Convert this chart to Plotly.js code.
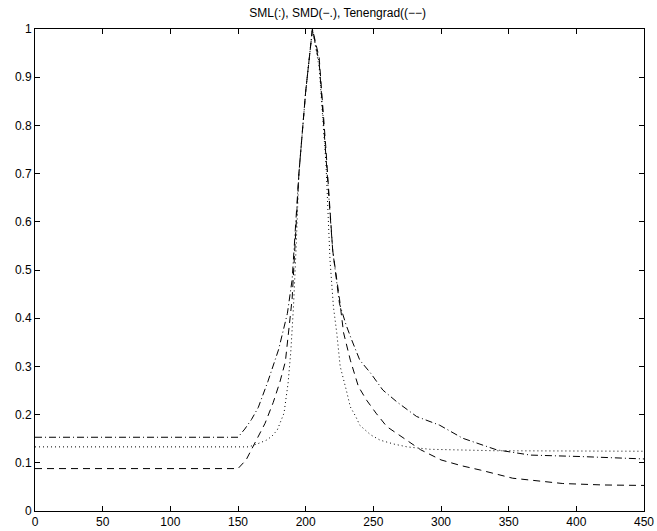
<!DOCTYPE html>
<html>
<head>
<meta charset="utf-8">
<script src="https://cdn.plot.ly/plotly-3.0.1.min.js"></script>
<style>html,body{margin:0;padding:0;background:#fff;}#chart{width:657px;height:531px;}</style>
</head>
<body>
<div id="chart"></div>
<script>
// SML (dotted)
const smlX = [0,158,165,171,175,179,184,187,189,191,193,195,200,205,210,215,218,220.5,223,225.5,230,233,237,240,248,255,265,275,292,340,450];
const smlY = [0.133,0.133,0.140,0.147,0.155,0.168,0.203,0.265,0.33,0.424,0.55,0.70,0.87,1.0,0.92,0.72,0.52,0.424,0.369,0.30,0.251,0.216,0.196,0.178,0.158,0.147,0.139,0.133,0.128,0.125,0.124];
// SMD (dash-dot)
const smdX = [0,150,155,160,165,172,180,186.5,190,195,200,205,210,215,220,225,230,234,240,248,257,268,282,299,316,341,366,403,450];
const smdY = [0.153,0.153,0.17,0.19,0.215,0.268,0.335,0.41,0.48,0.70,0.87,1.0,0.93,0.74,0.54,0.43,0.385,0.355,0.313,0.286,0.251,0.225,0.196,0.178,0.151,0.127,0.116,0.113,0.108];
// Tenengrad (dashed)
const tenX = [0,150,156,162.5,170,176,181,185,190,195,200,205,210,215,220,225,228,233,239,245,252,260,268,275,285,300,315,329,353,390,420,450];
const tenY = [0.088,0.088,0.106,0.14,0.182,0.225,0.268,0.31,0.44,0.70,0.87,1.0,0.94,0.75,0.54,0.44,0.37,0.313,0.258,0.23,0.203,0.175,0.16,0.145,0.127,0.106,0.094,0.085,0.068,0.057,0.054,0.053];

const xTicks = [0,50,100,150,200,250,300,350,400,450];
const yTicks = [0,0.1,0.2,0.3,0.4,0.5,0.6,0.7,0.8,0.9,1];
const yTickText = ['0','0.1','0.2','0.3','0.4','0.5','0.6','0.7','0.8','0.9','1'];
const titleText = 'SML(:), SMD(−.), Tenengrad((−−)';

const traces = [
  {x: smlX, y: smlY, mode: 'lines', line: {color: '#000', width: 1, dash: '1px,3px'}, name: 'SML'},
  {x: smdX, y: smdY, mode: 'lines', line: {color: '#000', width: 1, dash: '7px,3px,1px,3px'}, name: 'SMD'},
  {x: tenX, y: tenY, mode: 'lines', line: {color: '#000', width: 1, dash: '7px,5px'}, name: 'Tenengrad'}
];

const axisCommon = {
  showgrid: false, zeroline: false, showline: true, linecolor: '#000', linewidth: 1,
  mirror: 'ticks', ticks: 'inside', ticklen: 5, tickcolor: '#000', tickwidth: 1,
  tickfont: {family: 'Liberation Sans, Arial, sans-serif', size: 12, color: '#000'}
};

const layout = {
  width: 657, height: 531,
  margin: {l: 35, r: 13, t: 29, b: 20, pad: 0},
  paper_bgcolor: '#fff', plot_bgcolor: '#fff',
  showlegend: false,
  title: {text: titleText, x: 0.514, xanchor: 'center', y: 0.975, yanchor: 'middle',
          font: {family: 'Liberation Sans, Arial, sans-serif', size: 12, color: '#000'}},
  xaxis: Object.assign({}, axisCommon, {range: [0, 450], tickvals: xTicks, ticktext: xTicks.map(String), automargin: false}),
  yaxis: Object.assign({}, axisCommon, {range: [0, 1], tickvals: yTicks, ticktext: yTickText, automargin: false})
};

Plotly.newPlot('chart', traces, layout, {displayModeBar: false, staticPlot: true});
</script>
</body>
</html>
